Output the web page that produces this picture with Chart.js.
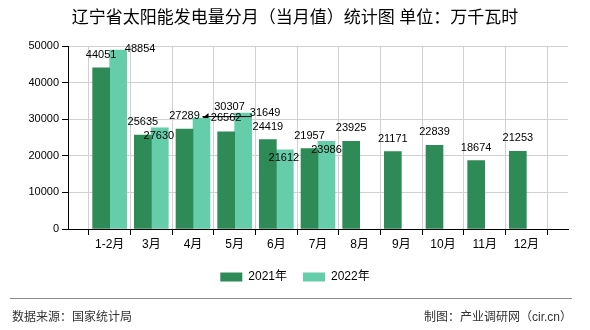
<!DOCTYPE html>
<html><head><meta charset="utf-8">
<script src="https://cdn.jsdelivr.net/npm/chart.js@4.4.1/dist/chart.umd.min.js"></script>
<style>
html,body{margin:0;padding:0;background:#fff}
#wrap{position:relative;width:590px;height:330px;overflow:hidden;font-family:"Liberation Sans","Noto Sans CJK SC",sans-serif}
#c{position:absolute;left:0;top:0}
#sep{position:absolute;left:10px;top:298px;width:562px;height:1px;background:#8c8c8c}
#src{position:absolute;left:12px;top:309px;font-size:12px;line-height:16px;color:#333}
#by{position:absolute;right:18px;top:309px;font-size:12px;line-height:16px;color:#333}
</style></head><body>
<div id="wrap">
<canvas id="c" width="590" height="330"></canvas>
<div id="sep"></div>
<div id="src">数据来源：国家统计局</div>
<div id="by">制图：产业调研网（cir.cn）</div>
</div>
<script>
const titleText = '辽宁省太阳能发电量分月（当月值）统计图 单位：万千瓦时';
const categories = ['1-2月','3月','4月','5月','6月','7月','8月','9月','10月','11月','12月'];
const series2021 = [44051,25635,27289,26562,24419,21957,23925,21171,22839,18674,21253];
const series2022 = [48854,27630,30307,31649,21612,23986];
const seriesNames = ['2021年','2022年'];
const yMin = 0, yMax = 50000, yStep = 10000;

const FONT = '"Liberation Sans","Noto Sans CJK SC",sans-serif';
const DARK = '#2e8b57', LIGHT = '#66cdaa';

// category axis padded with an empty slot on each side
const labels = [''].concat(categories, ['']);
const pad = arr => [null].concat(categories.map((_, i) => (i < arr.length ? arr[i] : null)), [null]);

// label placement tweaks (overlap avoidance), keyed "dataset:categoryIndex"
const labelTweaks = {
  '1:0': {dx: 22, dy: -1},
  '1:1': {dx: -1, dy: 8},
  '1:2': {dx: 28, dy: -11, leader: true},
  '0:3': {dx: 0, dy: -14},
  '1:3': {dx: 22, dy: 0},
  '1:4': {dx: -1, dy: 8},
  '1:5': {dx: 0, dy: 9}
};

const valueLabels = {
  id: 'valueLabels',
  afterDatasetsDraw(chart) {
    const ctx = chart.ctx;
    ctx.save();
    ctx.font = '11px ' + FONT;
    ctx.fillStyle = '#000';
    ctx.textAlign = 'center';
    ctx.textBaseline = 'middle';
    chart.data.datasets.forEach((ds, di) => {
      const meta = chart.getDatasetMeta(di);
      meta.data.forEach((bar, idx) => {
        const v = ds.data[idx];
        if (v === null || v === undefined) return;
        const ci = idx - 1;
        const t = labelTweaks[di + ':' + ci] || {dx: 0, dy: -13};
        const x = bar.x + t.dx, y = bar.y + t.dy;
        ctx.fillText(String(v), x, y);
        if (t.leader) {
          ctx.strokeStyle = '#000';
          ctx.lineWidth = 1;
          ctx.beginPath();
          ctx.moveTo(bar.x + 1, bar.y - 1.5);
          ctx.lineTo(bar.x + 50, bar.y - 1.5);
          ctx.stroke();
          ctx.beginPath();
          ctx.moveTo(bar.x + 1, bar.y);
          ctx.lineTo(bar.x + 7, bar.y - 5);
          ctx.lineTo(bar.x + 7, bar.y);
          ctx.closePath();
          ctx.fill();
        }
      });
    });
    ctx.restore();
  }
};

new Chart(document.getElementById('c'), {
  type: 'bar',
  data: {
    labels: labels,
    datasets: [
      {label: seriesNames[0], data: pad(series2021), backgroundColor: DARK, barThickness: 17},
      {label: seriesNames[1], data: pad(series2022), backgroundColor: LIGHT, barThickness: 17}
    ]
  },
  options: {
    responsive: false,
    animation: false,
    devicePixelRatio: 1,
    layout: {padding: {left: 22, right: 22, top: 0, bottom: 37}},
    plugins: {
      title: {
        display: true, text: titleText, color: '#000',
        font: {size: 17, family: FONT, weight: 'normal'},
        padding: {top: 7.8, bottom: 17.8}
      },
      legend: {
        position: 'bottom',
        labels: {boxWidth: 22, boxHeight: 9, padding: 16, color: '#000', font: {size: 12, family: FONT}}
      },
      tooltip: {enabled: false}
    },
    scales: {
      x: {
        offset: false,
        grid: {color: '#d0d0d0', tickColor: '#000', tickLength: 6, lineWidth: 1},
        border: {color: '#000', width: 1},
        ticks: {color: '#000', font: {size: 12, family: FONT}, padding: 2, autoSkip: false, maxRotation: 0, minRotation: 0},
        afterFit(s) { s.height = 26; }
      },
      y: {
        min: yMin, max: yMax,
        grid: {color: '#d0d0d0', tickColor: '#000', tickLength: 6, lineWidth: 1},
        border: {color: '#000', width: 1},
        ticks: {stepSize: yStep, color: '#000', font: {size: 11, family: FONT}, padding: 3, callback: v => String(v)},
        afterFit(s) { s.width = 46; }
      }
    }
  },
  plugins: [valueLabels]
});
</script>
</body></html>
